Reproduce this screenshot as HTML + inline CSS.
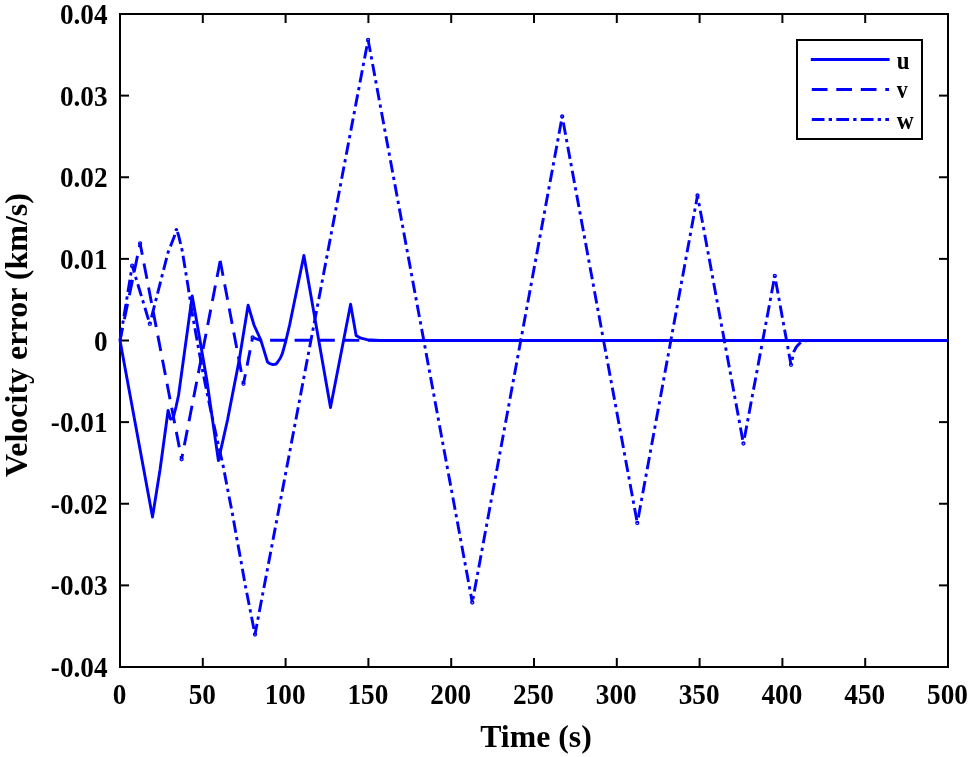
<!DOCTYPE html>
<html><head><meta charset="utf-8"><style>
html,body{margin:0;padding:0;background:#fff;}
svg{display:block;}
text{font-family:"Liberation Serif",serif;font-weight:bold;fill:#000;}
svg{will-change:transform;}
</style></head><body>
<svg width="969" height="757" viewBox="0 0 969 757">
<rect width="969" height="757" fill="#fff"/>
<g stroke="#000" stroke-width="2" fill="none">
<rect x="120" y="14" width="828" height="653"/>
<line x1="120.00" y1="667" x2="120.00" y2="658"/><line x1="120.00" y1="14" x2="120.00" y2="23"/><line x1="202.80" y1="667" x2="202.80" y2="658"/><line x1="202.80" y1="14" x2="202.80" y2="23"/><line x1="285.60" y1="667" x2="285.60" y2="658"/><line x1="285.60" y1="14" x2="285.60" y2="23"/><line x1="368.40" y1="667" x2="368.40" y2="658"/><line x1="368.40" y1="14" x2="368.40" y2="23"/><line x1="451.20" y1="667" x2="451.20" y2="658"/><line x1="451.20" y1="14" x2="451.20" y2="23"/><line x1="534.00" y1="667" x2="534.00" y2="658"/><line x1="534.00" y1="14" x2="534.00" y2="23"/><line x1="616.80" y1="667" x2="616.80" y2="658"/><line x1="616.80" y1="14" x2="616.80" y2="23"/><line x1="699.60" y1="667" x2="699.60" y2="658"/><line x1="699.60" y1="14" x2="699.60" y2="23"/><line x1="782.40" y1="667" x2="782.40" y2="658"/><line x1="782.40" y1="14" x2="782.40" y2="23"/><line x1="865.20" y1="667" x2="865.20" y2="658"/><line x1="865.20" y1="14" x2="865.20" y2="23"/><line x1="948.00" y1="667" x2="948.00" y2="658"/><line x1="948.00" y1="14" x2="948.00" y2="23"/><line x1="120" y1="14.00" x2="129" y2="14.00"/><line x1="948" y1="14.00" x2="939" y2="14.00"/><line x1="120" y1="95.62" x2="129" y2="95.62"/><line x1="948" y1="95.62" x2="939" y2="95.62"/><line x1="120" y1="177.25" x2="129" y2="177.25"/><line x1="948" y1="177.25" x2="939" y2="177.25"/><line x1="120" y1="258.88" x2="129" y2="258.88"/><line x1="948" y1="258.88" x2="939" y2="258.88"/><line x1="120" y1="340.50" x2="129" y2="340.50"/><line x1="948" y1="340.50" x2="939" y2="340.50"/><line x1="120" y1="422.12" x2="129" y2="422.12"/><line x1="948" y1="422.12" x2="939" y2="422.12"/><line x1="120" y1="503.75" x2="129" y2="503.75"/><line x1="948" y1="503.75" x2="939" y2="503.75"/><line x1="120" y1="585.38" x2="129" y2="585.38"/><line x1="948" y1="585.38" x2="939" y2="585.38"/><line x1="120" y1="667.00" x2="129" y2="667.00"/><line x1="948" y1="667.00" x2="939" y2="667.00"/>
</g>
<g fill="none" stroke="#0000ff" stroke-width="2.9" stroke-linejoin="round">
<line x1="120" y1="340.5" x2="132.2" y2="265.7" stroke-dasharray="12.4 4.3 3.3 4.5" stroke-dashoffset="24.3"/>
<line x1="132.2" y1="265.7" x2="149.8" y2="323.9" stroke-dasharray="12.4 4.3 3.3 4.5" stroke-dashoffset="5.1"/>
<polyline points="149.8,323.9 168.0,252.5 174.6,235.8 176.4,229.2" stroke-dasharray="12.4 4.3 3.3 4.5" stroke-dashoffset="17.7"/>
<polyline points="176.4,229.2 178.6,235.5 182.1,250.2 188.0,286.0 192.0,312.0 196.0,334.5 200.0,356.6 205.0,383.0 211.5,414.0 217.7,442.0 223.2,466.1 227.8,490.2 232.5,514.1 236.7,537.9 241.2,562.2 245.5,586.4 255.0,634.5" stroke-dasharray="12.4 4.3 3.3 4.5" stroke-dashoffset="21.5"/>
<line x1="255" y1="634.5" x2="368.1" y2="39.8" stroke-dasharray="12.4 4.3 3.3 4.5" stroke-dashoffset="1.6"/>
<line x1="368.1" y1="39.8" x2="472.3" y2="602.5" stroke-dasharray="12.4 4.3 3.3 4.5" stroke-dashoffset="0"/>
<line x1="472.3" y1="602.5" x2="562.2" y2="116.5" stroke-dasharray="12.4 4.3 3.3 4.5" stroke-dashoffset="13.3"/>
<line x1="562.2" y1="116.5" x2="637.3" y2="523" stroke-dasharray="12.4 4.3 3.3 4.5" stroke-dashoffset="18.3"/>
<line x1="637.3" y1="523" x2="697.5" y2="195.5" stroke-dasharray="12.4 4.3 3.3 4.5" stroke-dashoffset="18.8"/>
<line x1="697.5" y1="195.5" x2="743.4" y2="443.5" stroke-dasharray="12.4 4.3 3.3 4.5" stroke-dashoffset="9.1"/>
<line x1="743.4" y1="443.5" x2="774.8" y2="276" stroke-dasharray="12.4 4.3 3.3 4.5" stroke-dashoffset="18.7"/>
<line x1="774.8" y1="276" x2="791" y2="364.8" stroke-dasharray="12.4 4.3 3.3 4.5" stroke-dashoffset="19.0"/>
<polyline points="791.0,364.8 792.4,358.5 793.9,351.7 796.0,347.5 798.5,344.5 801.0,342.2 804.0,341.0 808.0,340.5 948.0,340.5" stroke-dasharray="12.4 4.3 3.3 4.5" stroke-dashoffset="11.7"/>
<line x1="120" y1="340.5" x2="140.1" y2="243.3" stroke-dasharray="15.7 8.8" stroke-dashoffset="2.8"/>
<line x1="140.1" y1="243.3" x2="181.6" y2="459.3" stroke-dasharray="15.7 8.8" stroke-dashoffset="4.0"/>
<line x1="181.6" y1="459.3" x2="220.2" y2="260.8" stroke-dasharray="15.7 8.8" stroke-dashoffset="10.2"/>
<line x1="220.2" y1="260.8" x2="243.5" y2="383.8" stroke-dasharray="15.7 8.8" stroke-dashoffset="0.5"/>
<line x1="243.5" y1="383.8" x2="252.6" y2="337.5" stroke-dasharray="15.7 8.8" stroke-dashoffset="6.0"/>
<line x1="252.6" y1="337.5" x2="260.5" y2="340.3" stroke-dasharray="15.7 8.8" stroke-dashoffset="0"/>
<line x1="260.5" y1="340.3" x2="948" y2="340.5" stroke-dasharray="15.7 8.8" stroke-dashoffset="14.9"/>
<polyline points="120.0,340.5 152.5,517.0 160.0,470.0 168.1,410.5 170.5,419.0 173.0,418.5 176.0,407.0 178.6,395.0 192.2,295.9 198.2,330.0 206.8,380.0 218.4,460.6 227.5,420.0 239.2,360.0 248.1,305.2 254.0,325.0 260.6,339.5 263.9,350.1 267.5,362.0 269.8,363.6 273.1,364.6 276.1,364.0 277.7,362.0 280.4,358.0 282.4,353.4 285.7,341.5 289.6,325.0 303.9,255.5 330.5,407.5 350.6,304.2 356.1,335.6 361.0,338.2 367.0,339.7 380.0,340.5 948.0,340.5"/>
</g>
<g fill="none" stroke="#0000ff" stroke-width="1.3">
<circle cx="132.2" cy="265.7" r="1.5"/>
<circle cx="149.8" cy="323.9" r="1.5"/>
<circle cx="255" cy="634.5" r="1.5"/>
<circle cx="368.1" cy="39.8" r="1.5"/>
<circle cx="472.3" cy="602.5" r="1.5"/>
<circle cx="562.2" cy="116.5" r="1.5"/>
<circle cx="637.3" cy="523" r="1.5"/>
<circle cx="697.5" cy="195.5" r="1.5"/>
<circle cx="743.4" cy="443.5" r="1.5"/>
<circle cx="774.8" cy="276" r="1.5"/>
<circle cx="791" cy="364.8" r="1.5"/>
<circle cx="140.1" cy="243.3" r="1.5"/>
<circle cx="181.6" cy="459.3" r="1.5"/>
<circle cx="243.5" cy="383.8" r="1.5"/>
<circle cx="252.6" cy="337.5" r="1.5"/><circle cx="176.4" cy="229.6" r="1.7" fill="#0000ff" stroke="none"/>
</g>
<g font-size="29.6">
<text transform="translate(107.6,24.10) scale(0.921,1)" text-anchor="end">0.04</text><text transform="translate(107.6,105.72) scale(0.921,1)" text-anchor="end">0.03</text><text transform="translate(107.6,187.35) scale(0.921,1)" text-anchor="end">0.02</text><text transform="translate(107.6,268.98) scale(0.921,1)" text-anchor="end">0.01</text><text transform="translate(107.6,350.60) scale(0.921,1)" text-anchor="end">0</text><text transform="translate(107.6,432.23) scale(0.921,1)" text-anchor="end">-0.01</text><text transform="translate(107.6,513.85) scale(0.921,1)" text-anchor="end">-0.02</text><text transform="translate(107.6,595.48) scale(0.921,1)" text-anchor="end">-0.03</text><text transform="translate(107.6,677.10) scale(0.921,1)" text-anchor="end">-0.04</text>
<text transform="translate(119.50,704.0) scale(0.921,1)" text-anchor="middle">0</text><text transform="translate(202.30,704.0) scale(0.921,1)" text-anchor="middle">50</text><text transform="translate(285.10,704.0) scale(0.921,1)" text-anchor="middle">100</text><text transform="translate(367.90,704.0) scale(0.921,1)" text-anchor="middle">150</text><text transform="translate(450.70,704.0) scale(0.921,1)" text-anchor="middle">200</text><text transform="translate(533.50,704.0) scale(0.921,1)" text-anchor="middle">250</text><text transform="translate(616.30,704.0) scale(0.921,1)" text-anchor="middle">300</text><text transform="translate(699.10,704.0) scale(0.921,1)" text-anchor="middle">350</text><text transform="translate(781.90,704.0) scale(0.921,1)" text-anchor="middle">400</text><text transform="translate(864.70,704.0) scale(0.921,1)" text-anchor="middle">450</text><text transform="translate(947.50,704.0) scale(0.921,1)" text-anchor="middle">500</text>
</g>
<text x="536" y="746.8" text-anchor="middle" font-size="31.8">Time (s)</text>
<text transform="translate(26.5,335) rotate(-90)" text-anchor="middle" font-size="32">Velocity error (km/s)</text>
<g>
<rect x="797" y="40" width="125" height="99" fill="#fff" stroke="#000" stroke-width="2"/>
<g stroke="#0000ff" stroke-width="2.9" fill="none">
<line x1="810.8" y1="59.5" x2="889.6" y2="59.5"/>
<line x1="811.8" y1="89.5" x2="889" y2="89.5" stroke-dasharray="15.7 8.8"/>
<line x1="811.8" y1="119.5" x2="889" y2="119.5" stroke-dasharray="12.7 4.2 3.3 4.3"/>
</g>
<g font-size="25">
<text transform="translate(896.8,68.6) scale(0.92,1.03)">u</text>
<text transform="translate(896.8,98.1) scale(0.88,1.0)">v</text>
<text transform="translate(896.8,128.7) scale(0.94,1.03)">w</text>
</g>
</g>
</svg>
</body></html>
